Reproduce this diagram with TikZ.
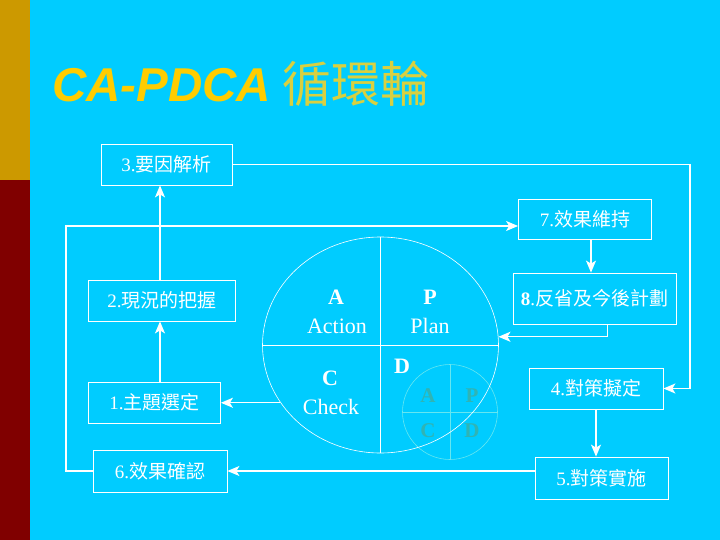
\documentclass[tikz,border=0pt]{standalone}
\usepackage{fontspec}
\setmainfont{Liberation Serif}
\newfontfamily\cjk{Noto Sans CJK TC}
\newfontfamily\titlefont{Liberation Sans}
\usetikzlibrary{positioning}
\usetikzlibrary{shapes.geometric}
\usetikzlibrary{arrows.meta}

\definecolor{slidebg}{HTML}{00CCFF}
\definecolor{bargold}{HTML}{CC9900}
\definecolor{barred}{HTML}{800000}
\definecolor{titleyellow}{HTML}{FFCC00}
\definecolor{titlecjk}{HTML}{D8D040}
\definecolor{minicyan}{HTML}{66E6F0}
\definecolor{miniteal}{HTML}{30B4B4}

\begin{document}
\begin{tikzpicture}[x = 1pt, y = -1pt,
		stepbox/.style = {draw = white, line width = 0.8pt, text = white, inner sep = 0pt, font = \fontsize{19}{19}\selectfont},
		arr/.style = {white, line width = 1.4pt, -{Stealth[length = 12pt, width = 10pt, inset = 3pt]}},
		rim/.style = {draw = white, line width = 0.6pt},
		big/.style = {text = white, font = \fontsize{22}{22}\selectfont},
		small/.style = {text = miniteal, font = \fontsize{21}{21}\selectfont\bfseries}]
	% slide
	\fill [slidebg] (0, 0) rectangle (720, 540);
	\fill [bargold] (0, 0) rectangle (30, 180);
	\fill [barred] (0, 180) rectangle (30, 540);
	\useasboundingbox (0, 0) rectangle (720, 540);
	\node [anchor = base west, inner sep = 0pt, text = titleyellow] (title) at (52, 102) {\titlefont\fontsize{47.5}{47.5}\selectfont\bfseries\itshape CA-PDCA};
	\node [anchor = base west, inner sep = 0pt, text = titlecjk] (titlecn) at (282, 103) {\cjk\fontsize{49}{49}\selectfont 循環輪};

	% wheel
	\node [circle, draw = minicyan, line width = 0.6pt, minimum size = 95pt, inner sep = 0pt] (mini) at (450, 412) {};
	\draw [minicyan, line width = 0.6pt] (mini.north) -- (mini.south);
	\draw [minicyan, line width = 0.6pt] (mini.west) -- (mini.east);
	\node [ellipse, rim, minimum width = 236pt, minimum height = 216pt, inner sep = 0pt] (wheel) at (380.5, 345) {};
	\draw [white, line width = 0.6pt] (wheel.north) -- (wheel.south);
	\draw [white, line width = 0.6pt] (wheel.west) -- (wheel.east);
	\node [big] (la) at (336, 297) {\textbf{A}};
	\node [big] (laction) at (337, 326) {Action};
	\node [big] (lp) at (430, 297) {\textbf{P}};
	\node [big] (lplan) at (430, 326) {Plan};
	\node [big] (lc) at (330, 378) {\textbf{C}};
	\node [big] (lcheck) at (331, 407) {Check};
	\node [big] (ld) at (402, 366) {\textbf{D}};
	\node [small] (ma) at (428, 396) {A};
	\node [small] (mp) at (472, 396) {P};
	\node [small] (mc) at (428, 431) {C};
	\node [small] (md) at (472, 431) {D};

	% steps
	\node [stepbox, minimum width = 131pt, minimum height = 41pt] (b3) at (166.5, 164.5) {3.{\cjk 要因解析}};
	\node [stepbox, minimum width = 133pt, minimum height = 40pt] (b7) at (585, 219) {7.{\cjk 效果維持}};
	\node [stepbox, minimum width = 147pt, minimum height = 41pt] (b2) at (162, 300.5) {2.{\cjk 現況的把握}};
	\node [stepbox, minimum width = 163pt, minimum height = 51pt] (b8) at (594.5, 298.5) {\textbf{8}.{\cjk 反省及今後計劃}};
	\node [stepbox, minimum width = 132pt, minimum height = 41pt] (b1) at (154.5, 402.5) {1.{\cjk 主題選定}};
	\node [stepbox, minimum width = 134pt, minimum height = 41pt] (b4) at (596, 388.5) {4.{\cjk 對策擬定}};
	\node [stepbox, minimum width = 134pt, minimum height = 42pt] (b6) at (160, 471) {6.{\cjk 效果確認}};
	\node [stepbox, minimum width = 133pt, minimum height = 42pt] (b5) at (601.5, 478) {5.{\cjk 對策實施}};
	\coordinate (rrail) at (690, 388.5);
	\coordinate (lrail) at (66, 226);

	% flow
	\draw [arr] (b1.north -| 160, 0) -- (b2.south -| 160, 0);
	\draw [arr] (b2.north -| 160, 0) -- (b3.south -| 160, 0);
	\draw [arr] (b3.east) -| (rrail) -- (b4.east);
	\draw [arr] (b4.south) -- (b4.south |- b5.north);
	\draw [arr] (b5.west |- b6.east) -- (b6.east);
	\draw [arr] (b6.west) -| (lrail) -- (lrail -| b7.west);
	\draw [arr] (b7.south -| 591, 0) -- (b8.north -| 591, 0);
	\draw [arr] ([xshift = 13pt]b8.south) |- (wheel.4);
	\draw [arr] (wheel.210) -- (wheel.210 -| b1.east);
\end{tikzpicture}
\end{document}
